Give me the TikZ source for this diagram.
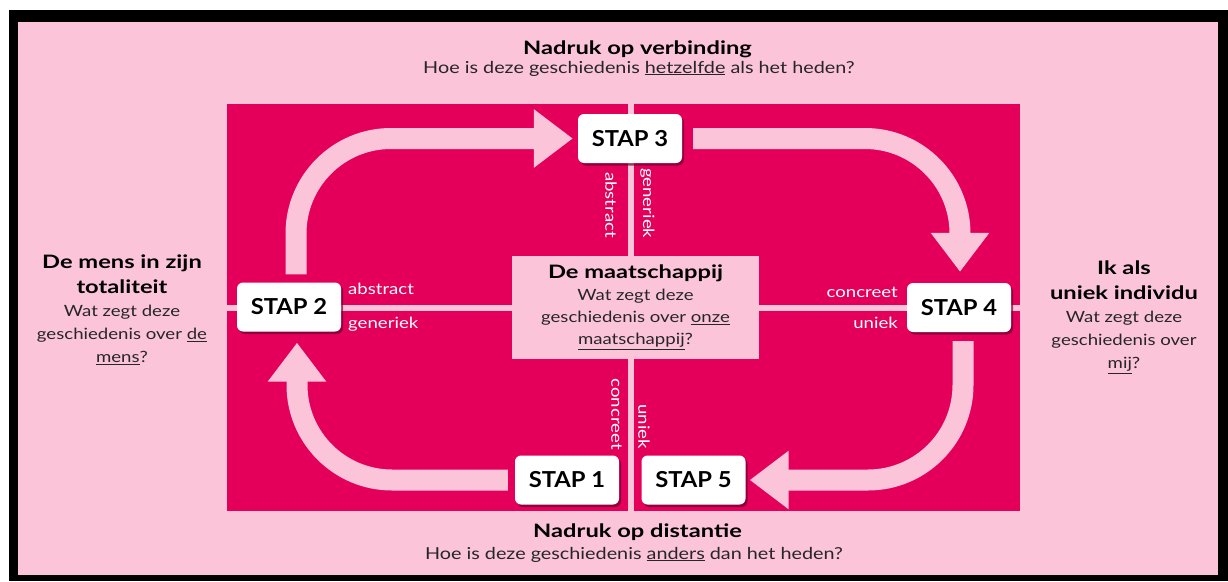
\documentclass[tikz,border=0pt]{standalone}
\usepackage{fontspec}
\setmainfont{Lato}[FakeStretch=1.2]
\newfontfamily\ttlfont{Lato}[FakeStretch=1.28]
\newfontfamily\stapfont{Lato}[FakeStretch=1.08]
\usetikzlibrary{arrows.meta,shadows}

\begin{document}
\begin{tikzpicture}[x=1pt,y=-1pt,font=\fontsize{15.5}{23}\selectfont,
  stap/.style={fill=white,rounded corners=6pt,minimum width=104pt,minimum height=49pt,
    inner sep=0pt,text=black,font=\stapfont\bfseries\fontsize{22}{24}\selectfont,
    drop shadow={shadow xshift=2pt,shadow yshift=-2.5pt,fill=shade,opacity=0.7}},
  flow/.style={draw=soft,line width=21pt,rounded corners=95pt,
    -{Triangle[width=56pt,length=39pt]}},
  axislab/.style={text=white,inner sep=0pt},
  head/.style={align=center,text=ink,inner sep=0pt},
  ttl/.style={font=\ttlfont\bfseries\fontsize{18.5}{25}\selectfont,text=black}]
  \definecolor{soft}{HTML}{FCC4D9}
  \definecolor{berry}{HTML}{E4005A}
  \definecolor{ink}{HTML}{262626}
  \definecolor{shade}{HTML}{6E0030}
  \useasboundingbox (0,0) rectangle (1228,581);
  % frame and field
  \fill[white] (0,0) rectangle (1228,581);
  \fill[black] (9,10) rectangle (1228,581);
  \fill[soft] (18,21.5) rectangle (1218,575);
  \fill[berry] (227,104) rectangle (1020,511);
  \fill[soft] (627.5,104) rectangle (633.5,511);
  \fill[soft] (227,305) rectangle (1020,311);
  % outer texts
  \node[ttl,anchor=base] (verbttl) at (637.5,54) {Nadruk op verbinding};
  \node[head,anchor=base,font=\fontsize{16.5}{20}\selectfont] (verbq) at (639,73)
    {Hoe is deze geschiedenis \underline{hetzelfde} als het heden?};
  \node[ttl,anchor=base] (distttl) at (637.5,537) {Nadruk op distantie};
  \node[head,anchor=base,font=\fontsize{16.5}{20}\selectfont] (distq) at (634,559)
    {Hoe is deze geschiedenis \underline{anders} dan het heden?};
  \node[head,ttl,anchor=north] (mensttl) at (122,255) {De mens in zijn\\totaliteit};
  \node[head,anchor=north] (mensq) at (122,305)
    {Wat zegt deze\\geschiedenis over \underline{de}\\\underline{mens}?};
  \node[head,ttl,anchor=north] (ikttl) at (1124,261) {Ik als\\uniek individu};
  \node[head,anchor=north] (ikq) at (1124,311)
    {Wat zegt deze\\geschiedenis over\\\underline{mij}?};
  % centre
  \node[head,fill=soft,minimum width=247pt,minimum height=103pt,
        font=\fontsize{15.5}{22}\selectfont] (soc) at (635.5,307.5)
    {{\ttlfont\bfseries\fontsize{18.5}{22}\selectfont\color{black}De maatschappij}\\Wat zegt deze\\
     geschiedenis over \underline{onze}\\\underline{maatschappij}?};
  % axis words
  \node[axislab,anchor=base west] (abl) at (348,294) {abstract};
  \node[axislab,anchor=base west] (gel) at (348,328) {generiek};
  \node[axislab,anchor=base east] (cor) at (898,297) {concreet};
  \node[axislab,anchor=base east] (unr) at (898,328) {uniek};
  \node[axislab,rotate=-90,anchor=north west] (abt) at (617,172) {abstract};
  \node[axislab,rotate=-90,anchor=south west] (get) at (640,168) {generiek};
  \node[axislab,rotate=-90,anchor=north east] (cob) at (622,450) {concreet};
  \node[axislab,rotate=-90,anchor=south east] (unb) at (638,449) {uniek};
  % steps
  \foreach \name/\pos/\num in {s1/{567,480}/1,s2/{289,307}/2,s3/{630,138.5}/3,
                               s4/{959,307.5}/4,s5/{693.5,480}/5}
    \node[stap] (\name) at (\pos) {STAP \num};
  % cycle
  \draw[flow,shorten <=8pt,shorten >=5pt] ([xshift=7pt]s2.north) |- (s3.west);
  \draw[flow,shorten <=11pt,shorten >=11pt] (s3.east) -| ([xshift=1pt]s4.north);
  \draw[flow,shorten <=9pt,shorten >=4pt] ([xshift=4pt]s4.south) |- (s5.east);
  \draw[flow,shorten <=7pt,shorten >=11pt] (s1.west) -| ([xshift=8pt]s2.south);
\end{tikzpicture}
\end{document}
